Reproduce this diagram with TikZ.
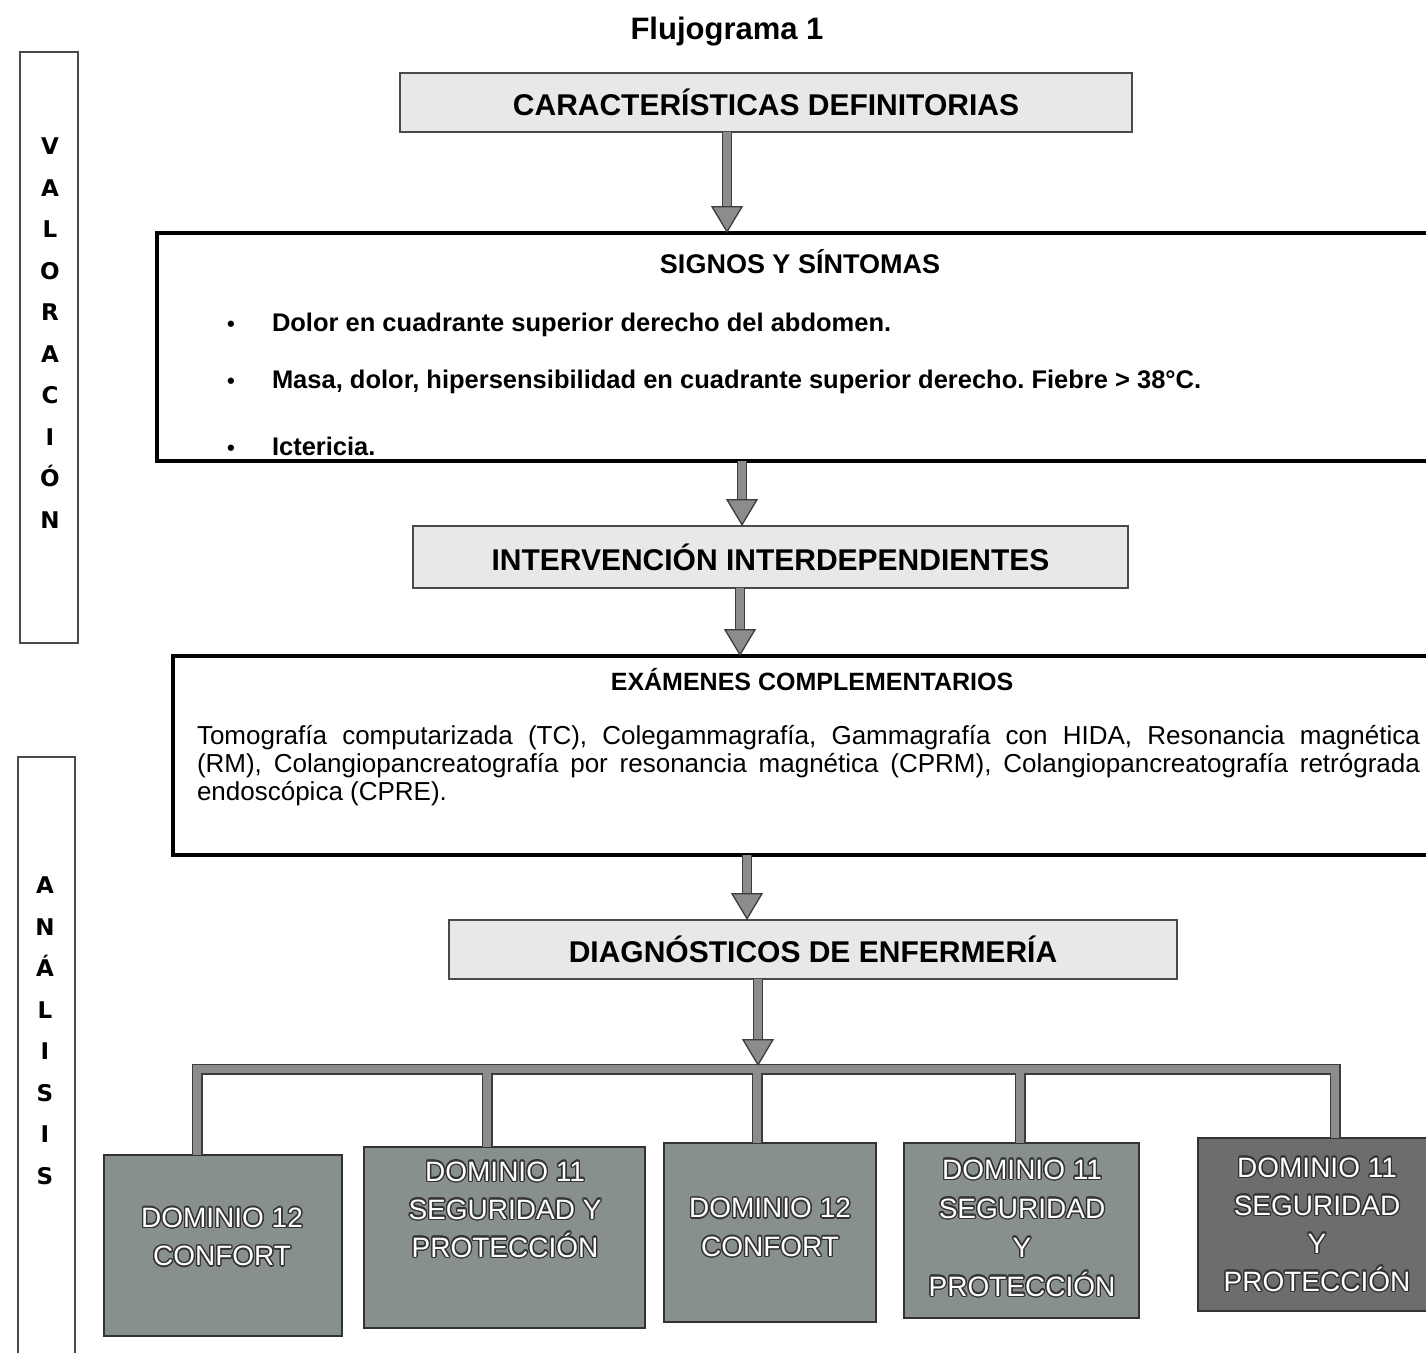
\documentclass[tikz,border=0pt]{standalone}
\usepackage{fontspec}
\setmainfont{Liberation Sans}
\newfontfamily\sidefont{DejaVu Sans}
\usepackage[copies]{contour}
\contourlength{1.3pt}
\contournumber{20}
\usetikzlibrary{arrows.meta}
\setlength{\parindent}{0pt}
\frenchspacing

\definecolor{boxgray}{HTML}{E8E8EA}
\definecolor{arrgray}{HTML}{8C8C8C}
\definecolor{arrdark}{HTML}{3C3C3C}
\definecolor{sidegray}{HTML}{4A4A4A}
\definecolor{domgreen}{HTML}{87908A}
\definecolor{domdark}{HTML}{6C6E6B}
\definecolor{txtdark}{HTML}{333333}

\newcommand\bul{\makebox[45pt][l]{\fontsize{22}{22}\selectfont\textbullet}}
\newcommand\ot[1]{\contour{txtdark}{#1}}

\tikzset{
  every node/.style={inner sep=0pt, outer sep=0pt},
  headbox/.style={draw=sidegray, line width=2pt, fill=boxgray,
    font=\bfseries\fontsize{30}{36}\selectfont},
  bigbox/.style={draw=black, line width=3.5pt, fill=white},
  sidebox/.style={draw=sidegray, line width=2.5pt, fill=white},
  sideletters/.style={font=\sidefont\bfseries\fontsize{23}{41.5}\selectfont, align=center},
  itemtext/.style={anchor=base west, font=\bfseries\fontsize{25.5}{30}\selectfont},
  bigarrow/.style={draw=arrgray, line width=8pt,
    -{Triangle[length=27pt,width=32pt,fill=arrgray,color=arrdark,line width=1.3pt]},
    preaction={draw=arrdark, line width=10.5pt, -, shorten >=24pt}},
  bracket/.style={draw=arrgray, line width=8pt, preaction={draw=arrdark, line width=11pt}},
  dombox/.style={draw=txtdark, line width=2.2pt, fill=domgreen},
  domtext/.style={text=white, align=center, font=\fontsize{28}{38.5}\selectfont},
}

\begin{document}
\begin{tikzpicture}[x=1pt, y=-1pt]
\useasboundingbox (0,0) rectangle (1426,1352);
\clip (0,0) rectangle (1426,1352);
\fill[white] (0,0) rectangle (1426,1352);

% title
\node[font=\bfseries\fontsize{31}{36}\selectfont] (title) at (727,32) {Flujograma 1};

% side boxes
\node[sidebox, minimum width=58, minimum height=591] (valbox) at (49,347.5) {};
\node[sideletters] (valtxt) at (50,333) {V\\A\\L\\O\\R\\A\\C\\I\\Ó\\N};
\node[sidebox, minimum width=57, minimum height=623] (anabox) at (46.5,1068.5) {};
\node[sideletters] (anatxt) at (45,1031) {A\\N\\Á\\L\\I\\S\\I\\S};

% main flow
\node[headbox, minimum width=732, minimum height=59] (carac) at (766,102.5) {CARACTERÍSTICAS DEFINITORIAS};

\node[bigbox, minimum width=1283, minimum height=228] (signos) at (798.5,347) {};
\node[font=\bfseries\fontsize{27}{32}\selectfont] (signostit) at (800,262) {SIGNOS Y SÍNTOMAS};
\node[itemtext] (s1) at (227,331) {\bul Dolor en cuadrante superior derecho del abdomen.};
\node[itemtext] (s2) at (227,388) {\bul Masa, dolor, hipersensibilidad en cuadrante superior derecho. Fiebre > 38°C.};
\node[itemtext] (s3) at (227,455) {\bul Ictericia.};

\node[headbox, minimum width=715, minimum height=62] (interv) at (770.5,557) {INTERVENCIÓN INTERDEPENDIENTES};

\node[bigbox, minimum width=1267, minimum height=199] (exam) at (806.5,755.5) {};
\node[font=\bfseries\fontsize{25}{30}\selectfont] (examtit) at (812,680) {EXÁMENES COMPLEMENTARIOS};
\node[text width=1223, align=justify, anchor=north west, font=\fontsize{26}{28}\selectfont] (examtxt) at (197,725)
 {Tomografía computarizada (TC), Colegammagrafía, Gammagrafía con HIDA, Resonancia magnética\linebreak
  (RM), Colangiopancreatografía por resonancia magnética (CPRM), Colangiopancreatografía retrógrada\linebreak
  endoscópica (CPRE).};

\node[headbox, minimum width=728, minimum height=59] (diag) at (813,949.5) {DIAGNÓSTICOS DE ENFERMERÍA};

% domain boxes
\node[dombox, minimum width=238, minimum height=181] (d1) at (223,1245.5) {};
\node[dombox, minimum width=281, minimum height=181] (d2) at (504.5,1237.5) {};
\node[dombox, minimum width=212, minimum height=179] (d3) at (770,1232.5) {};
\node[dombox, minimum width=235, minimum height=175] (d4) at (1021.5,1230.5) {};
\node[dombox, fill=domdark, minimum width=242, minimum height=173] (d5) at (1319,1224.5) {};

\node[domtext] (d1t) at (222,1237.5) {\ot{DOMINIO 12}\\\ot{CONFORT}};
\node[domtext, font=\fontsize{28}{38}\selectfont] (d2t) at (505,1210) {\ot{DOMINIO 11}\\\ot{SEGURIDAD Y}\\\ot{PROTECCIÓN}};
\node[domtext] (d3t) at (770,1228) {\ot{DOMINIO 12}\\\ot{CONFORT}};
\node[domtext, font=\fontsize{28}{39}\selectfont] (d4t) at (1022,1228.5) {\ot{DOMINIO 11}\\\ot{SEGURIDAD}\\\ot{Y}\\\ot{PROTECCIÓN}};
\node[domtext, font=\fontsize{28}{38}\selectfont] (d5t) at (1317,1225) {\ot{DOMINIO 11}\\\ot{SEGURIDAD}\\\ot{Y}\\\ot{PROTECCIÓN}};

% bracket coordinates
\coordinate (t1) at (197,1069);
\coordinate (t2) at (487,1069);
\coordinate (t3) at (757,1069);
\coordinate (t4) at (1020,1069);
\coordinate (t5) at (1335,1069);
\coordinate (hbar) at (758,1066);

\draw[bracket] (t1 |- d1.north) -- (t1) -- (t5) -- (t5 |- d5.north)
  (t2) -- (t2 |- d2.north)
  (t3) -- (t3 |- d3.north)
  (t4) -- (t4 |- d4.north);

% arrows
\draw[bigarrow] (carac.south -| 727,0) -- (signos.north -| 727,0);
\draw[bigarrow] (signos.south -| 742,0) -- (interv.north -| 742,0);
\draw[bigarrow] (interv.south -| 740,0) -- (exam.north -| 740,0);
\draw[bigarrow] (exam.south -| 747,0) -- (diag.north -| 747,0);
\draw[bigarrow] (diag.south -| hbar) -- (hbar);
\end{tikzpicture}
\end{document}
